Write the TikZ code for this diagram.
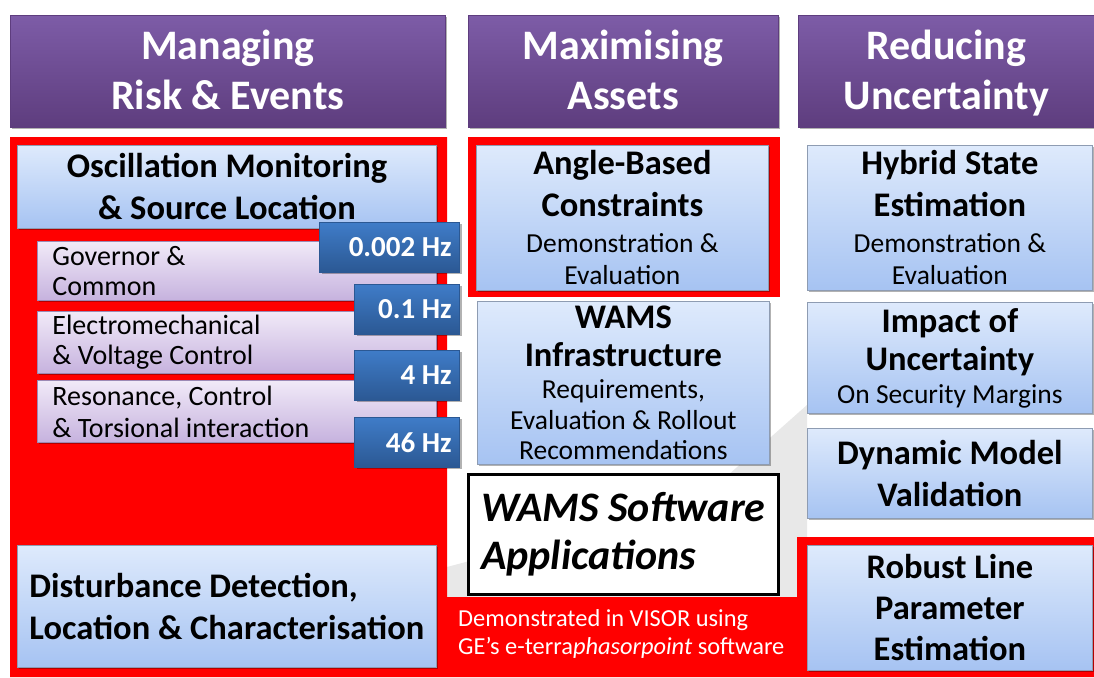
\documentclass[tikz,border=0pt]{standalone}
\usepackage{fontspec}
\setmainfont{Carlito}
\usetikzlibrary{shadows}
\definecolor{headtop}{HTML}{7D5CA7}
\definecolor{headbot}{HTML}{5E3D7E}
\definecolor{bluetop}{HTML}{DEEAFC}
\definecolor{bluebot}{HTML}{A6C3F2}
\definecolor{blueline}{HTML}{8E9CB2}
\definecolor{lilactop}{HTML}{F1EAF8}
\definecolor{lilacbot}{HTML}{C6B2DE}
\definecolor{lilacline}{HTML}{9C8AB5}
\definecolor{tagtop}{HTML}{3F7CC8}
\definecolor{tagbot}{HTML}{2B5893}
\definecolor{alarmred}{HTML}{FF0000}
\definecolor{backgray}{HTML}{E8E8E8}
\newcommand{\headfont}{\fontsize{42}{50}\selectfont\bfseries}
\newcommand{\titlefont}{\fontsize{34.5}{42}\selectfont\bfseries}
\newcommand{\notefont}{\fontsize{27.5}{32}\selectfont\mdseries}
\newcommand{\subfont}{\fontsize{28}{30}\selectfont}
\newcommand{\tagfont}{\fontsize{29}{32}\selectfont\bfseries}
\newcommand{\toprule}{\rule{0pt}{41pt}}
\newcommand{\botrule}{\rule[-15pt]{0pt}{15pt}}

\begin{document}
\begin{tikzpicture}[
  x=1pt, y=-1pt,
  boxshadow/.style={drop shadow={shadow xshift=2pt, shadow yshift=-2pt, opacity=0.3, fill=black}},
  headbox/.style={rectangle, top color=headtop, bottom color=headbot, draw=headbot, line width=0.6pt, anchor=north west, align=center, text=white, font=\headfont, inner sep=0pt, boxshadow},
  bluebox/.style={rectangle, top color=bluetop, bottom color=bluebot, draw=blueline, line width=0.8pt, anchor=north west, align=center, font=\titlefont, inner sep=0pt, boxshadow},
  subbox/.style={rectangle, top color=lilactop, bottom color=lilacbot, draw=lilacline, line width=0.8pt, anchor=north west, align=flush left, font=\subfont, inner xsep=15pt, inner ysep=0pt, text width=369pt, boxshadow},
  hztag/.style={rectangle, top color=tagtop, bottom color=tagbot, draw=tagbot, line width=0.6pt, anchor=north east, align=flush right, text=white, font=\tagfont, inner xsep=8pt, inner ysep=0pt, minimum height=50pt, boxshadow},
  softbox/.style={rectangle, fill=white, draw=black, line width=2.5pt, anchor=north west, align=left, font=\fontsize{42}{48}\selectfont\bfseries\itshape, inner sep=0pt}
]
  \useasboundingbox[fill=white] (0,0) rectangle (1094,677);

  % faint background wedge
  \fill[backgray] (447,567) -- (700,500) -- (807,405) -- (807,597) -- (447,597) -- cycle;

  % red highlight areas
  \fill[alarmred] (10,137) -- (447,137) -- (447,597) -- (797,597) -- (797,537) -- (1094,537) -- (1094,677) -- (10,677) -- cycle;
  \fill[alarmred] (468,137) rectangle (780,297);

  % column headers
  \node[headbox, minimum width=435pt, minimum height=112pt] (headrisk) at (10,15) {\toprule Managing\\Risk \& Events\botrule};
  \node[headbox, minimum width=310pt, minimum height=112pt] (headassets) at (468,15) {\toprule Maximising\\Assets\botrule};
  \node[headbox, minimum width=296pt, minimum height=112pt] (headuncert) at (798,15) {\toprule Reducing\\Uncertainty\botrule};

  % left column
  \node[bluebox, minimum width=419pt, minimum height=83pt] (oscmon) at (17,145) {Oscillation Monitoring\\\& Source Location};
  \node[subbox, minimum height=59pt] (govcommon) at (37,241) {Governor \&\\Common};
  \node[subbox, minimum height=62pt] (electromech) at (37,311) {Electromechanical\\\& Voltage Control};
  \node[subbox, minimum height=62pt] (resonance) at (37,380) {Resonance, Control\\[2pt]\& Torsional interaction};
  \node[hztag, text width=124pt] (tagslow) at (460,222) {0.002 Hz};
  \node[hztag, text width=89pt] (tagelec) at (460,284) {0.1 Hz};
  \node[hztag, text width=89pt] (tagres) at (460,350) {4 Hz};
  \node[hztag, text width=89pt] (tagtors) at (460,417) {46 Hz};
  \node[bluebox, align=left, minimum width=419pt, minimum height=122pt] (distdet) at (17,545) {Disturbance Detection,\\Location \& Characterisation};

  % middle column
  \node[bluebox, minimum width=292pt, minimum height=145pt] (anglecons) at (476,145) {Angle-Based\\Constraints\\[-6pt]{\notefont Demonstration \&}\\[-10pt]{\notefont Evaluation}};
  \node[bluebox, minimum width=292pt, minimum height=163pt] (wamsinfra) at (477,301) {WAMS\\[-4pt]Infrastructure\\[-10pt]{\notefont Requirements,}\\[-11pt]{\notefont Evaluation \& Rollout}\\[-12pt]{\notefont Recommendations}};
  \node[softbox, minimum width=310pt, minimum height=120pt] (wamssoft) at (467,473) {WAMS Software\\Applications};
  \node[anchor=west, align=left, text=white, inner sep=0pt, font=\fontsize{24.4}{28}\selectfont] (visornote) at (458,634) {Demonstrated in VISOR using\\GE’s e-terra\textit{phasorpoint} software};

  % right column
  \node[bluebox, minimum width=285pt, minimum height=145pt] (hybridse) at (807,145) {Hybrid State\\Estimation\\[-6pt]{\notefont Demonstration \&}\\[-10pt]{\notefont Evaluation}};
  \node[bluebox, minimum width=285pt, minimum height=111pt] (impactunc) at (807,302) {Impact of\\[-4pt]Uncertainty\\[-9pt]{\notefont On Security Margins}};
  \node[bluebox, minimum width=285pt, minimum height=90pt] (dynmodel) at (807,428) {Dynamic Model\\Validation};
  \node[bluebox, minimum width=285pt, minimum height=125pt] (robustline) at (807,545) {Robust Line\\[-1pt]Parameter\\[-1pt]Estimation};
\end{tikzpicture}
\end{document}
